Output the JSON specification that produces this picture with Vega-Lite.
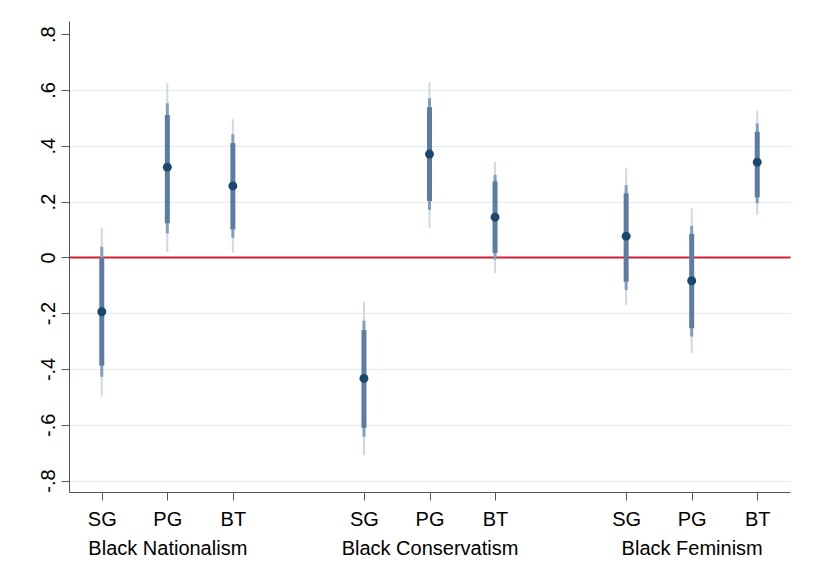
{
  "$schema": "https://vega.github.io/schema/vega-lite/v6.json",
  "width": 721,
  "height": 471,
  "autosize": {"type": "none"},
  "padding": {"left": 69, "top": 21, "right": 29, "bottom": 79},
  "background": "white",
  "config": {"view": {"stroke": null}, "font": "Liberation Sans"},
  "data": {
    "values": [
      {"key": "Black Nationalism|SG", "group": "Black Nationalism", "model": "SG", "b": -0.195, "lo90": -0.388, "hi90": -0.002, "lo95": -0.428, "hi95": 0.038, "lo99": -0.496, "hi99": 0.106},
      {"key": "Black Nationalism|PG", "group": "Black Nationalism", "model": "PG", "b": 0.323, "lo90": 0.122, "hi90": 0.51, "lo95": 0.086, "hi95": 0.552, "lo99": 0.02, "hi99": 0.624},
      {"key": "Black Nationalism|BT", "group": "Black Nationalism", "model": "BT", "b": 0.256, "lo90": 0.1, "hi90": 0.409, "lo95": 0.07, "hi95": 0.441, "lo99": 0.017, "hi99": 0.495},
      {"key": "Black Conservatism|SG", "group": "Black Conservatism", "model": "SG", "b": -0.434, "lo90": -0.611, "hi90": -0.261, "lo95": -0.643, "hi95": -0.227, "lo99": -0.709, "hi99": -0.159},
      {"key": "Black Conservatism|PG", "group": "Black Conservatism", "model": "PG", "b": 0.37, "lo90": 0.202, "hi90": 0.538, "lo95": 0.17, "hi95": 0.57, "lo99": 0.105, "hi99": 0.628},
      {"key": "Black Conservatism|BT", "group": "Black Conservatism", "model": "BT", "b": 0.144, "lo90": 0.016, "hi90": 0.272, "lo95": -0.008, "hi95": 0.296, "lo99": -0.056, "hi99": 0.342},
      {"key": "Black Feminism|SG", "group": "Black Feminism", "model": "SG", "b": 0.076, "lo90": -0.087, "hi90": 0.229, "lo95": -0.117, "hi95": 0.259, "lo99": -0.171, "hi99": 0.319},
      {"key": "Black Feminism|PG", "group": "Black Feminism", "model": "PG", "b": -0.084, "lo90": -0.254, "hi90": 0.084, "lo95": -0.284, "hi95": 0.113, "lo99": -0.344, "hi99": 0.176},
      {"key": "Black Feminism|BT", "group": "Black Feminism", "model": "BT", "b": 0.341, "lo90": 0.215, "hi90": 0.45, "lo95": 0.194, "hi95": 0.48, "lo99": 0.152, "hi99": 0.525}
    ]
  },
  "encoding": {
    "x": {
      "field": "key",
      "type": "nominal",
      "scale": {
        "type": "point",
        "padding": 0.5,
        "domain": ["Black Nationalism|SG", "Black Nationalism|PG", "Black Nationalism|BT", "gap1", "Black Conservatism|SG", "Black Conservatism|PG", "Black Conservatism|BT", "gap2", "Black Feminism|SG", "Black Feminism|PG", "Black Feminism|BT"]
      },
      "axis": {
        "title": null,
        "values": ["Black Nationalism|SG", "Black Nationalism|PG", "Black Nationalism|BT", "Black Conservatism|SG", "Black Conservatism|PG", "Black Conservatism|BT", "Black Feminism|SG", "Black Feminism|PG", "Black Feminism|BT"],
        "labelExpr": "indexof(datum.value, '|PG') > 0 ? [split(datum.value, '|')[1], split(datum.value, '|')[0]] : split(datum.value, '|')[1]",
        "labelAngle": 0,
        "labelAlign": "center",
        "labelBaseline": "top",
        "labelFontSize": 20,
        "labelColor": "#000000",
        "labelPadding": 9,
        "labelLineHeight": 29,
        "labelOverlap": false,
        "labelBound": false,
        "labelFlush": false,
        "grid": false,
        "domainColor": "#555555",
        "domainWidth": 1,
        "tickColor": "#555555",
        "tickWidth": 1,
        "tickSize": 8
      }
    }
  },
  "layer": [
    {
      "mark": {"type": "rule", "color": "#cdd9e5", "strokeWidth": 2},
      "encoding": {
        "y": {
          "field": "lo99",
          "type": "quantitative",
          "scale": {"domain": [-0.841, 0.847], "nice": false, "zero": false},
          "axis": {
            "title": null,
            "values": [-0.8, -0.6, -0.4, -0.2, 0, 0.2, 0.4, 0.6, 0.8],
            "labelExpr": "datum.value == 0 ? '0' : (datum.value < 0 ? '-' : '') + replace(format(abs(datum.value), '.1f'), '0.', '.')",
            "labelAngle": -90,
            "labelAlign": "center",
            "labelBaseline": "bottom",
            "labelFontSize": 20,
            "labelColor": "#000000",
            "labelPadding": 3,
            "grid": true,
            "gridColor": {"condition": {"test": "datum.value == 0", "value": "#cc1f36"}, "value": "#e4ecf0"},
            "gridWidth": {"condition": {"test": "datum.value == 0", "value": 2}, "value": 1},
            "gridOpacity": {"condition": {"test": "datum.value > 0.7", "value": 0}, "value": 1},
            "domainColor": "#555555",
            "domainWidth": 1,
            "tickColor": "#555555",
            "tickWidth": 1,
            "tickSize": 8
          }
        },
        "y2": {"field": "hi99"}
      }
    },
    {
      "mark": {"type": "rule", "color": "#819fbd", "strokeWidth": 3},
      "encoding": {
        "y": {"field": "lo95", "type": "quantitative"},
        "y2": {"field": "hi95"}
      }
    },
    {
      "mark": {"type": "rule", "color": "#5a7da1", "strokeWidth": 5},
      "encoding": {
        "y": {"field": "lo90", "type": "quantitative"},
        "y2": {"field": "hi90"}
      }
    },
    {
      "mark": {"type": "point", "filled": true, "color": "#1a476f", "opacity": 1, "size": 80},
      "encoding": {
        "y": {"field": "b", "type": "quantitative"}
      }
    }
  ]
}
